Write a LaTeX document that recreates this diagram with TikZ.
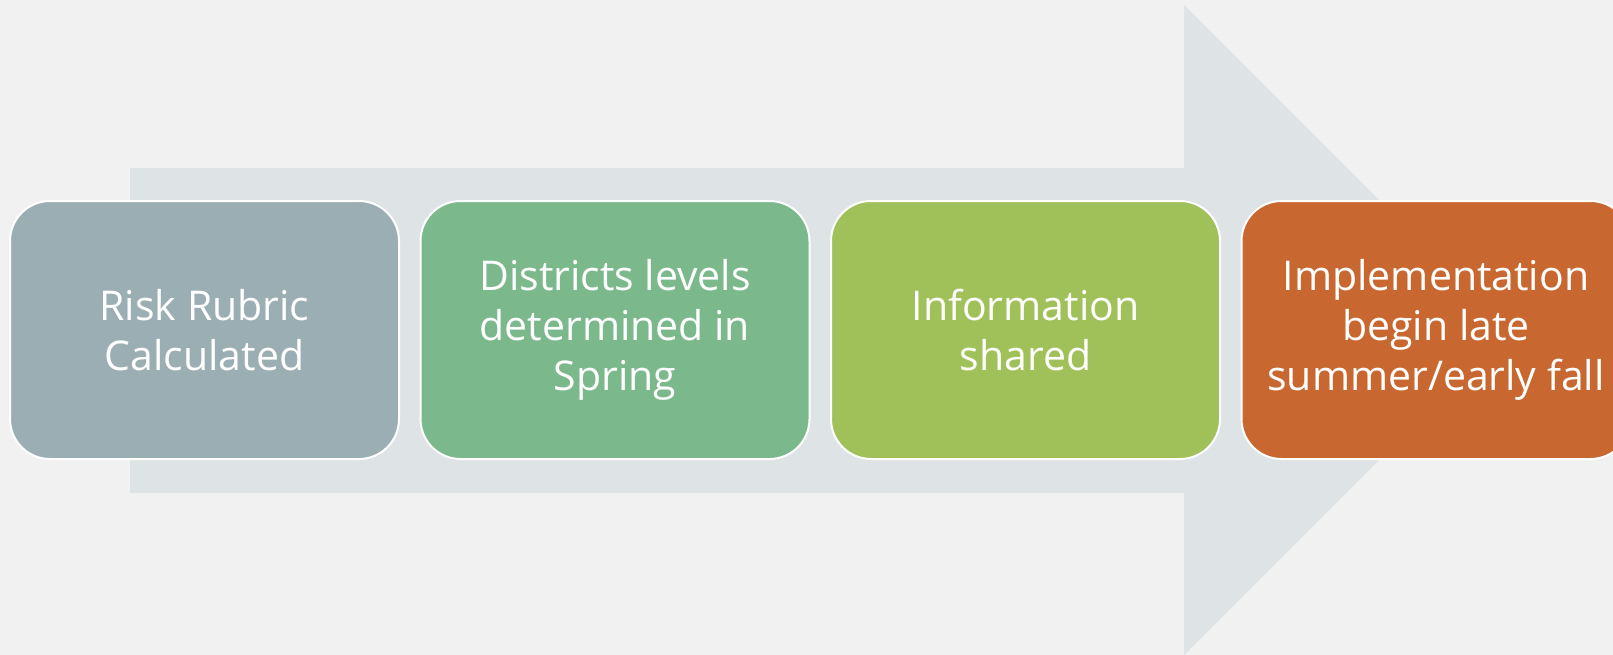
\documentclass[tikz,border=0pt]{standalone}
\usepackage{fontspec}
\setmainfont{Open Sans}
\usepackage{tikz}

\definecolor{bgGray}{HTML}{F1F1F1}
\definecolor{arrowGray}{HTML}{DEE3E5}
\definecolor{stepSlate}{HTML}{9BAEB3}
\definecolor{stepGreen}{HTML}{7BB98D}
\definecolor{stepLime}{HTML}{A0C15A}
\definecolor{stepRust}{HTML}{C86830}

\tikzset{
	stepbox/.style={draw=white, line width=2pt, rounded corners=40pt,
		minimum width=389pt, minimum height=258pt, inner sep=0pt,
		align=center, text=white, font=\fontsize{41}{50}\selectfont}
}

\begin{document}
\begin{tikzpicture}[x=1pt, y=-1pt]
		\useasboundingbox (0,0) rectangle (1613,655);
		\clip (0,0) rectangle (1613,655);
		\fill[bgGray] (0,0) rectangle (1613,655);
		% big arrow behind the steps
		\fill[arrowGray] (130,168) -- (1184,168) -- (1184,5) -- (1509,330) -- (1184,655) -- (1184,493) -- (130,493) -- cycle;
		% the four steps
		\node[stepbox, fill=stepSlate] (rubric) at (204.5,330) {Risk Rubric\\Calculated};
		\node[stepbox, fill=stepGreen] (levels) at (615,330) {Districts levels\\determined in\\Spring};
		\node[stepbox, fill=stepLime] (shared) at (1025.5,330) {Information\\shared};
		\node[stepbox, fill=stepRust] (implement) at (1436,330) {Implementation\\begin late\\summer/early fall};
	\end{tikzpicture}
\end{document}
